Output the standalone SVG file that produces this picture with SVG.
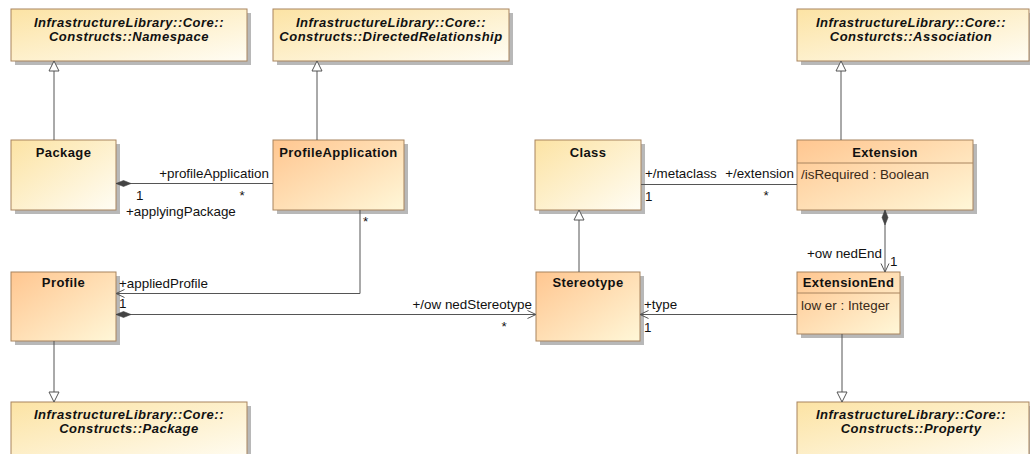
<svg xmlns="http://www.w3.org/2000/svg" width="1030" height="454" viewBox="0 0 1030 454">
  <defs>
    <linearGradient id="gLight" x1="0" y1="0" x2="1" y2="1">
      <stop offset="0" stop-color="#fce3a4"/>
      <stop offset="1" stop-color="#fffdf4"/>
    </linearGradient>
    <linearGradient id="gOrange" x1="0" y1="0" x2="1" y2="1">
      <stop offset="0" stop-color="#ffc690"/>
      <stop offset="1" stop-color="#fff7d8"/>
    </linearGradient>
    <marker id="gen" viewBox="0 0 12 12" refX="11" refY="6" markerWidth="12" markerHeight="12" markerUnits="userSpaceOnUse" orient="auto">
      <path d="M1,1 L11,6 L1,11 Z" fill="#fff" stroke="#555" stroke-width="1"/>
    </marker>
    <marker id="open" viewBox="0 0 10 10" refX="9.5" refY="5" markerWidth="10" markerHeight="10" markerUnits="userSpaceOnUse" orient="auto">
      <path d="M1,1 L9.5,5 L1,9" fill="none" stroke="#555" stroke-width="1"/>
    </marker>
    <marker id="diamond" viewBox="0 0 16 8" refX="0.5" refY="4" markerWidth="16" markerHeight="8" markerUnits="userSpaceOnUse" orient="auto">
      <path d="M0.5,4 L8,1 L15.5,4 L8,7 Z" fill="#444" stroke="#444" stroke-width="0.6"/>
    </marker>
  </defs>
  <style>
    .shadow { fill: #b8b8b8; }
    .light { fill: url(#gLight); stroke: #a8845e; stroke-width: 1; }
    .orange { fill: url(#gOrange); stroke: #a8845e; stroke-width: 1; }
    .sep { stroke: #a8845e; stroke-width: 1; }
    .title { font-family: "Liberation Sans", Arial, sans-serif; font-size: 13px; font-weight: bold; letter-spacing: 0.4px; fill: #111; text-anchor: middle; }
    .ext { font-family: "Liberation Sans", Arial, sans-serif; font-size: 13px; font-weight: bold; font-style: italic; letter-spacing: 0.5px; fill: #111; text-anchor: middle; }
    .attr { font-family: "Liberation Sans", Arial, sans-serif; font-size: 13.4px; fill: #3a2a18; }
    .lbl { font-family: "Liberation Sans", Arial, sans-serif; font-size: 13.4px; fill: #111; }
    .end { text-anchor: end; }
    .mid { text-anchor: middle; }
    .edge { fill: none; stroke: #555; stroke-width: 1; }
  </style>

  <!-- external metaclasses (top row) -->
  <g id="Namespace">
    <rect class="shadow" x="15" y="13" width="236" height="52"/>
    <rect class="light" x="11" y="9" width="236" height="52"/>
    <text class="ext" x="129" y="27">InfrastructureLibrary::Core::</text>
    <text class="ext" x="129" y="41">Constructs::Namespace</text>
  </g>
  <g id="DirectedRelationship">
    <rect class="shadow" x="277" y="13" width="236" height="52"/>
    <rect class="light" x="273" y="9" width="236" height="52"/>
    <text class="ext" x="391" y="27">InfrastructureLibrary::Core::</text>
    <text class="ext" x="391" y="41">Constructs::DirectedRelationship</text>
  </g>
  <g id="Association">
    <rect class="shadow" x="801" y="13" width="232" height="52"/>
    <rect class="light" x="797" y="9" width="232" height="52"/>
    <text class="ext" x="911" y="27">InfrastructureLibrary::Core::</text>
    <text class="ext" x="911" y="41">Consturcts::Association</text>
  </g>

  <!-- middle row -->
  <g id="Package">
    <rect class="shadow" x="15" y="144" width="105" height="70"/>
    <rect class="light" x="11" y="140" width="105" height="70"/>
    <text class="title" x="63.5" y="157">Package</text>
  </g>
  <g id="ProfileApplication">
    <rect class="shadow" x="277" y="144" width="131" height="70"/>
    <rect class="orange" x="273" y="140" width="131" height="70"/>
    <text class="title" x="338.5" y="157">ProfileApplication</text>
  </g>
  <g id="Class">
    <rect class="shadow" x="539" y="144" width="106" height="70"/>
    <rect class="light" x="535" y="140" width="106" height="70"/>
    <text class="title" x="588" y="157">Class</text>
  </g>
  <g id="Extension">
    <rect class="shadow" x="801" y="144" width="176" height="70"/>
    <rect class="orange" x="797" y="140" width="176" height="70"/>
    <line class="sep" x1="797" y1="163" x2="973" y2="163"/>
    <text class="title" x="885" y="157">Extension</text>
    <text class="attr" x="801" y="179">/isRequired : Boolean</text>
  </g>

  <!-- lower row -->
  <g id="Profile">
    <rect class="shadow" x="15" y="276" width="105" height="69"/>
    <rect class="orange" x="11" y="272" width="105" height="69"/>
    <text class="title" x="63.5" y="287">Profile</text>
  </g>
  <g id="Stereotype">
    <rect class="shadow" x="540" y="276" width="104" height="69"/>
    <rect class="orange" x="536" y="272" width="104" height="69"/>
    <text class="title" x="588" y="287">Stereotype</text>
  </g>
  <g id="ExtensionEnd">
    <rect class="shadow" x="801" y="276" width="103" height="62"/>
    <rect class="orange" x="797" y="272" width="103" height="62"/>
    <line class="sep" x1="797" y1="293" x2="900" y2="293"/>
    <text class="title" x="848.5" y="287">ExtensionEnd</text>
    <text class="attr" x="801" y="310">low er : Integer</text>
  </g>

  <!-- external metaclasses (bottom row) -->
  <g id="PackageBase">
    <rect class="shadow" x="15" y="406" width="236" height="60"/>
    <rect class="light" x="11" y="402" width="236" height="60"/>
    <text class="ext" x="129" y="419">InfrastructureLibrary::Core::</text>
    <text class="ext" x="129" y="433">Constructs::Package</text>
  </g>
  <g id="Property">
    <rect class="shadow" x="801" y="406" width="232" height="60"/>
    <rect class="light" x="797" y="402" width="232" height="60"/>
    <text class="ext" x="911" y="419">InfrastructureLibrary::Core::</text>
    <text class="ext" x="911" y="433">Constructs::Property</text>
  </g>

  <g id="connectors">
    <!-- generalizations -->
    <line class="edge" x1="54" y1="140" x2="54" y2="61" marker-end="url(#gen)"/>
    <line class="edge" x1="317" y1="140" x2="317" y2="61" marker-end="url(#gen)"/>
    <line class="edge" x1="841" y1="140" x2="841" y2="61" marker-end="url(#gen)"/>
    <line class="edge" x1="579" y1="272" x2="579" y2="210" marker-end="url(#gen)"/>
    <line class="edge" x1="54" y1="341" x2="54" y2="402" marker-end="url(#gen)"/>
    <line class="edge" x1="842" y1="334" x2="842" y2="402" marker-end="url(#gen)"/>

    <!-- Package <>- ProfileApplication -->
    <line class="edge" x1="116" y1="183.5" x2="273" y2="183.5" marker-start="url(#diamond)"/>
    <text class="lbl end" x="269" y="178">+profileApplication</text>
    <text class="lbl mid" x="242" y="200">*</text>
    <text class="lbl" x="136" y="200">1</text>
    <text class="lbl" x="126" y="216">+applyingPackage</text>

    <!-- ProfileApplication -> Profile -->
    <polyline class="edge" points="360,210 360,293.5 116,293.5" marker-end="url(#open)"/>
    <text class="lbl" x="363" y="226">*</text>
    <text class="lbl" x="119" y="288">+appliedProfile</text>
    <text class="lbl" x="119" y="308">1</text>

    <!-- Profile <>- Stereotype -->
    <line class="edge" x1="116" y1="314.5" x2="536" y2="314.5" marker-start="url(#diamond)" marker-end="url(#open)"/>
    <text class="lbl end" x="532" y="309">+/ow nedStereotype</text>
    <text class="lbl mid" x="504" y="331">*</text>

    <!-- ExtensionEnd -> Stereotype -->
    <line class="edge" x1="797" y1="314.5" x2="640" y2="314.5" marker-end="url(#open)"/>
    <text class="lbl" x="644" y="309">+type</text>
    <text class="lbl" x="644" y="332">1</text>

    <!-- Class - Extension -->
    <line class="edge" x1="641" y1="184.5" x2="797" y2="184.5"/>
    <text class="lbl" x="645" y="178">+/metaclass</text>
    <text class="lbl end" x="794" y="178">+/extension</text>
    <text class="lbl" x="645" y="201">1</text>
    <text class="lbl mid" x="766" y="200">*</text>

    <!-- Extension <>- ExtensionEnd -->
    <line class="edge" x1="885" y1="210" x2="885" y2="272" marker-start="url(#diamond)" marker-end="url(#open)"/>
    <text class="lbl" x="807" y="258">+ow nedEnd</text>
    <text class="lbl" x="890" y="266">1</text>
  </g>
</svg>
